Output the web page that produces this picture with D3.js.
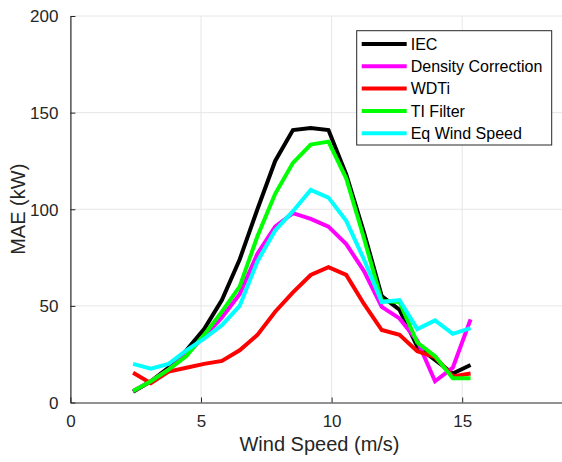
<!DOCTYPE html>
<html>
<head>
<meta charset="utf-8">
<script src="https://cdn.jsdelivr.net/npm/d3@7"></script>
<style>
  html, body { margin: 0; padding: 0; background: #fff; }
  svg { display: block; font-family: "Liberation Sans", Arial, sans-serif; }
</style>
</head>
<body>
<svg id="chart" width="562" height="462"></svg>
<script>
// ---- data ----
const windSpeed = [2.4, 3.08, 3.76, 4.44, 5.12, 5.8, 6.48, 7.16, 7.84, 8.52, 9.2, 9.88, 10.56, 11.24, 11.92, 12.6, 13.28, 13.96, 14.64, 15.32];
const iec        = [5.6, 11, 18, 27, 38, 53, 74, 100, 125, 141, 142, 141, 118, 88, 55, 48, 29, 22, 15, 19.4];
const densityCorr= [6, 11, 17, 25, 34, 44, 56, 77, 91, 98, 95, 91, 82, 68, 49.5, 43.5, 32, 11, 18, 43];
const wdti       = [15.4, 10, 16, 18, 20, 21.5, 27, 35, 47, 57, 66, 70, 66, 51, 37.5, 35, 26.5, 23.5, 13.5, 15];
const tiFilter   = [6, 11, 17, 24, 35, 47, 60, 86, 108, 124, 133.5, 135, 116, 85, 52.5, 52, 31, 24, 12.5, 12.5];
const eqWind     = [20, 17.5, 20, 27, 33, 40, 50, 73, 89, 99, 110, 106, 94, 74, 52, 53, 38, 42.5, 35.5, 38.5];
const seriesNames = ["IEC", "Density Correction", "WDTi", "TI Filter", "Eq Wind Speed"];
const seriesColors = ["#000000", "#ff00ff", "#ff0000", "#00ff00", "#00ffff"];
const xTicks = [0, 5, 10, 15];
const yTicks = [0, 50, 100, 150, 200];
const xLabel = "Wind Speed (m/s)";
const yLabel = "MAE (kW)";

const seriesData = [iec, densityCorr, wdti, tiFilter, eqWind];

const svg = d3.select("#chart");
const mLeft = 70.4, mBottom = 402.5, mTop = 16;
const x = d3.scaleLinear().domain([0, 19]).range([mLeft, mLeft + 26.12 * 19]);
const y = d3.scaleLinear().domain([0, 200]).range([mBottom, mTop]);

// grid
const grid = svg.append("g");
grid.selectAll("line.h").data(yTicks.filter(d => d > 0)).join("line")
  .attr("x1", x(0)).attr("x2", x(19)).attr("y1", d => y(d)).attr("y2", d => y(d))
  .attr("stroke", "#e6e6e6").attr("stroke-width", 1);
grid.selectAll("line.v").data(xTicks.filter(d => d > 0)).join("line")
  .attr("y1", y(0)).attr("y2", y(200)).attr("x1", d => x(d)).attr("x2", d => x(d))
  .attr("stroke", "#e6e6e6").attr("stroke-width", 1);

// axes
const xAxis = d3.axisBottom(x).tickValues(xTicks).tickSizeInner(-5).tickSizeOuter(0).tickPadding(12);
const yAxis = d3.axisLeft(y).tickValues(yTicks).tickSizeInner(-5).tickSizeOuter(0).tickPadding(12);
const gx = svg.append("g").attr("transform", `translate(0,${mBottom})`).call(xAxis);
const gy = svg.append("g").attr("transform", `translate(${mLeft},0)`).call(yAxis);
[gx, gy].forEach(g => {
  g.select(".domain").attr("stroke", "#262626").attr("stroke-width", 1.2);
  g.selectAll(".tick line").attr("stroke", "#262626");
  g.selectAll(".tick text").attr("fill", "#262626").attr("font-size", 17)
    .attr("font-family", "Liberation Sans, Arial, sans-serif");
});
gx.selectAll(".tick text").attr("dy", "0.71em");
gy.selectAll(".tick text").attr("dy", "0.35em");

// lines
const line = d3.line().x((d, i) => x(windSpeed[i])).y(d => y(d));
svg.append("g").selectAll("path").data(seriesData).join("path")
  .attr("d", d => line(d))
  .attr("fill", "none")
  .attr("stroke", (d, i) => seriesColors[i])
  .attr("stroke-width", 4)
  .attr("stroke-linejoin", "miter");

// axis labels
svg.append("text").attr("x", 319.5).attr("y", 451)
  .attr("text-anchor", "middle").attr("font-size", 20).attr("fill", "#262626")
  .text(xLabel);
svg.append("text").attr("transform", `translate(25,${(mTop + mBottom) / 2}) rotate(-90)`)
  .attr("text-anchor", "middle").attr("font-size", 20).attr("fill", "#262626")
  .text(yLabel);

// legend
const leg = svg.append("g");
leg.append("rect").attr("x", 356.7).attr("y", 30.7).attr("width", 195).attr("height", 114.3)
  .attr("fill", "#fff").attr("stroke", "#262626").attr("stroke-width", 1);
const rows = leg.selectAll("g.row").data(seriesNames).join("g")
  .attr("transform", (d, i) => `translate(0,${44 + i * 22.3})`);
rows.append("line").attr("x1", 361.7).attr("x2", 406.7).attr("y1", 0).attr("y2", 0)
  .attr("stroke", (d, i) => seriesColors[i]).attr("stroke-width", 4);
rows.append("text").attr("x", 410.7).attr("y", 0).attr("dy", "0.35em")
  .attr("font-size", 16).attr("fill", "#000").text(d => d);
</script>
</body>
</html>
